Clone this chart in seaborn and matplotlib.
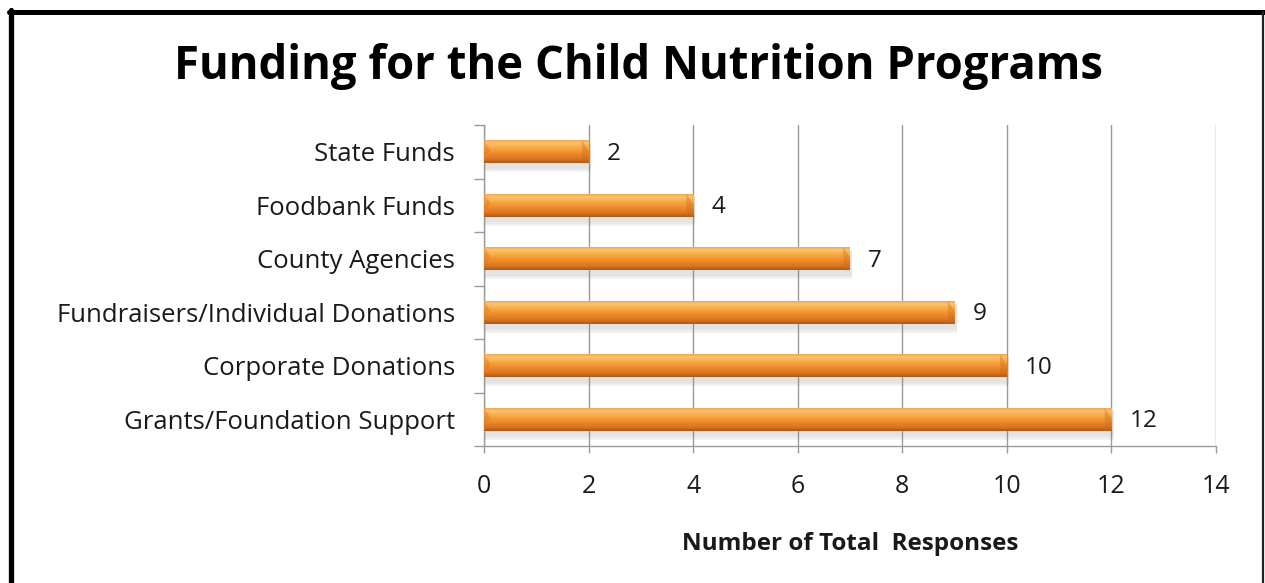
import numpy as np
import pandas as pd
import matplotlib
matplotlib.use("Agg")
import matplotlib.pyplot as plt
from matplotlib.colors import LinearSegmentedColormap
from matplotlib.lines import Line2D
from matplotlib.patches import Rectangle, Polygon
import seaborn as sns

# Funding sources and number of responses
sources = [
    "State Funds",
    "Foodbank Funds",
    "County Agencies",
    "Fundraisers/Individual Donations",
    "Corporate Donations",
    "Grants/Foundation Support",
]
responses = [2, 4, 7, 9, 10, 12]
x_ticks = [0, 2, 4, 6, 8, 10, 12, 14]

title = "Funding for the Child Nutrition Programs"
x_label = "Number of Total  Responses"

sns.set_theme(style="white")
plt.rcParams["font.family"] = ["Open Sans", "DejaVu Sans"]

df = pd.DataFrame({"source": sources, "responses": responses})

fig = plt.figure(figsize=(12.65, 5.83), dpi=100)
ax = fig.add_axes([484 / 1265, 1 - 446 / 583, (1216 - 484) / 1265, (446 - 125) / 583])

sns.barplot(data=df, x="responses", y="source", orient="h", ax=ax,
            color="#EE8A2A", width=0.43, saturation=1, edgecolor="none")

ax.set_xlim(0, 14)
ax.set_ylim(5.5, -0.5)

# cylinder-like shading of each bar
shade = LinearSegmentedColormap.from_list(
    "bar_shade",
    [(0.0, "#F39A45"), (0.15, "#FCC46C"), (0.32, "#F9AE4A"),
     (0.6, "#EF8B2A"), (0.85, "#D8741E"), (1.0, "#A8591C")])
grad = np.linspace(0, 1, 64).reshape(-1, 1)
for patch in list(ax.patches):
    x0, y0 = patch.get_x(), patch.get_y()
    w, h = patch.get_width(), patch.get_height()
    # soft shadow under the bar
    for k, a in zip([0.10, 0.07, 0.04], [0.10, 0.07, 0.05]):
        ax.add_patch(Rectangle((x0, y0 + h * 0.15), w + 0.04, h + k,
                               facecolor="#808080", alpha=a, edgecolor="none", zorder=1.5))
    im = ax.imshow(grad, cmap=shade, aspect="auto",
                   extent=(x0, x0 + w, y0 + h, y0), zorder=3, interpolation="bicubic")
    im.set_clip_path(patch)
    patch.set_zorder(2.5)
    # bevelled ends
    d = 0.13
    xe = x0 + w
    ax.add_patch(Polygon([(xe - d, y0), (xe, y0 + h * 0.45), (xe, y0 + h), (xe - d, y0 + h)],
                         closed=True, facecolor="#C9681C", alpha=0.35,
                         edgecolor="none", zorder=3.2))
    ax.add_patch(Polygon([(x0, y0), (x0 + d, y0 + h * 0.45), (x0, y0 + h * 0.7)],
                         closed=True, facecolor="#D9781F", alpha=0.4,
                         edgecolor="none", zorder=3.2))

# value labels
for i, v in enumerate(responses):
    ax.annotate(str(v), xy=(v, i), xytext=(13, -1.5), textcoords="offset points",
                ha="left", va="center", fontsize=17.5, color="#1a1a1a")

# grid and axes
ax.set_xticks(x_ticks)
ax.set_xticklabels([str(t) for t in x_ticks])
ax.grid(axis="x", color="#9a9a9a", linewidth=1.0, zorder=0)
ax.set_axisbelow(True)
for side in ["top", "right"]:
    ax.spines[side].set_visible(False)
for side in ["left", "bottom"]:
    ax.spines[side].set_color("#9a9a9a")
    ax.spines[side].set_linewidth(1.0)

ax.tick_params(axis="x", which="major", direction="out", length=5, width=1,
               color="#9a9a9a", pad=15, labelsize=18, labelcolor="#1a1a1a", bottom=True)
ax.set_yticks(np.arange(-0.5, 6.0, 1.0), minor=True)
ax.tick_params(axis="y", which="minor", direction="out", length=7, width=1,
               color="#9a9a9a", left=True)
ax.tick_params(axis="y", which="major", length=0, pad=21, labelsize=18.5, labelcolor="#1a1a1a")

ax.set_ylabel("")
ax.set_xlabel(x_label, fontsize=17.5, fontweight="bold", labelpad=24, color="#1a1a1a")

fig.text(639 / 1265, 1 - 67 / 583, title, ha="center", va="center",
         fontsize=32.8, fontweight="bold", color="#000000")

# frame around the chart
fig.add_artist(Line2D([10.5 / 1265, 10.5 / 1265], [0, 1 - 10 / 583],
                      transform=fig.transFigure, color="black", linewidth=3.8))
fig.add_artist(Line2D([8.5 / 1265, 1264 / 1265], [1 - 12 / 583, 1 - 12 / 583],
                      transform=fig.transFigure, color="black", linewidth=3.6))
fig.add_artist(Line2D([1263 / 1265, 1263 / 1265], [0, 1 - 12 / 583],
                      transform=fig.transFigure, color="#222222", linewidth=1.6))

fig.savefig("out.png", dpi=100, facecolor="white")
